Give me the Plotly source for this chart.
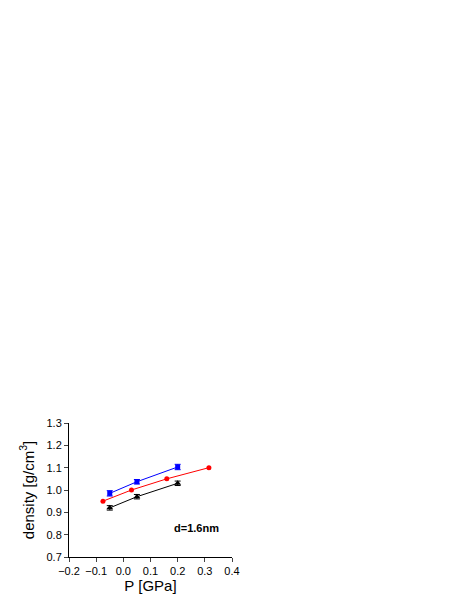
import plotly.graph_objects as go

blue_x = [-0.05, 0.05, 0.2]
blue_y = [0.985, 1.037, 1.103]
blue_err = [0.012, 0.01, 0.012]
red_x = [-0.075, 0.03, 0.16, 0.315]
red_y = [0.95, 1.0, 1.05, 1.1]
black_x = [-0.05, 0.05, 0.2]
black_y = [0.92, 0.97, 1.03]
black_err = [0.01, 0.01, 0.01]

fig = go.Figure()
fig.add_trace(go.Scatter(x=blue_x, y=blue_y, mode='lines+markers',
                         line=dict(color='blue', width=1),
                         marker=dict(symbol='square', size=5, color='blue'),
                         error_y=dict(array=blue_err, color='blue', thickness=1, width=3)))
fig.add_trace(go.Scatter(x=red_x, y=red_y, mode='lines+markers',
                         line=dict(color='red', width=1),
                         marker=dict(symbol='circle', size=5, color='red')))
fig.add_trace(go.Scatter(x=black_x, y=black_y, mode='lines+markers',
                         line=dict(color='black', width=1),
                         marker=dict(symbol='triangle-up', size=6, color='black'),
                         error_y=dict(array=black_err, color='black', thickness=1, width=3)))

fig.add_annotation(x=0.27, y=0.83, text='<b>d=1.6nm</b>', showarrow=False,
                   font=dict(size=11, color='black'))

axis = dict(showgrid=False, zeroline=False, showline=True, linecolor='black',
            ticks='outside', ticklen=4, mirror=False,
            tickfont=dict(size=11, color='black'))
fig.update_xaxes(range=[-0.2, 0.4], dtick=0.1, tickformat='.1f',
                 title=dict(text='P [GPa]', font=dict(size=15), standoff=4), **axis)
fig.update_yaxes(range=[0.7, 1.3], dtick=0.1, tickformat='.1f',
                 title=dict(text='density [g/cm<sup>3</sup>]', font=dict(size=15), standoff=8), **axis)
fig.update_layout(width=467, height=605, showlegend=False,
                  plot_bgcolor='white', paper_bgcolor='white',
                  font=dict(family='Arial, Liberation Sans', color='black'),
                  margin=dict(l=61, r=243, t=415, b=56))
fig.write_html("out.html")
